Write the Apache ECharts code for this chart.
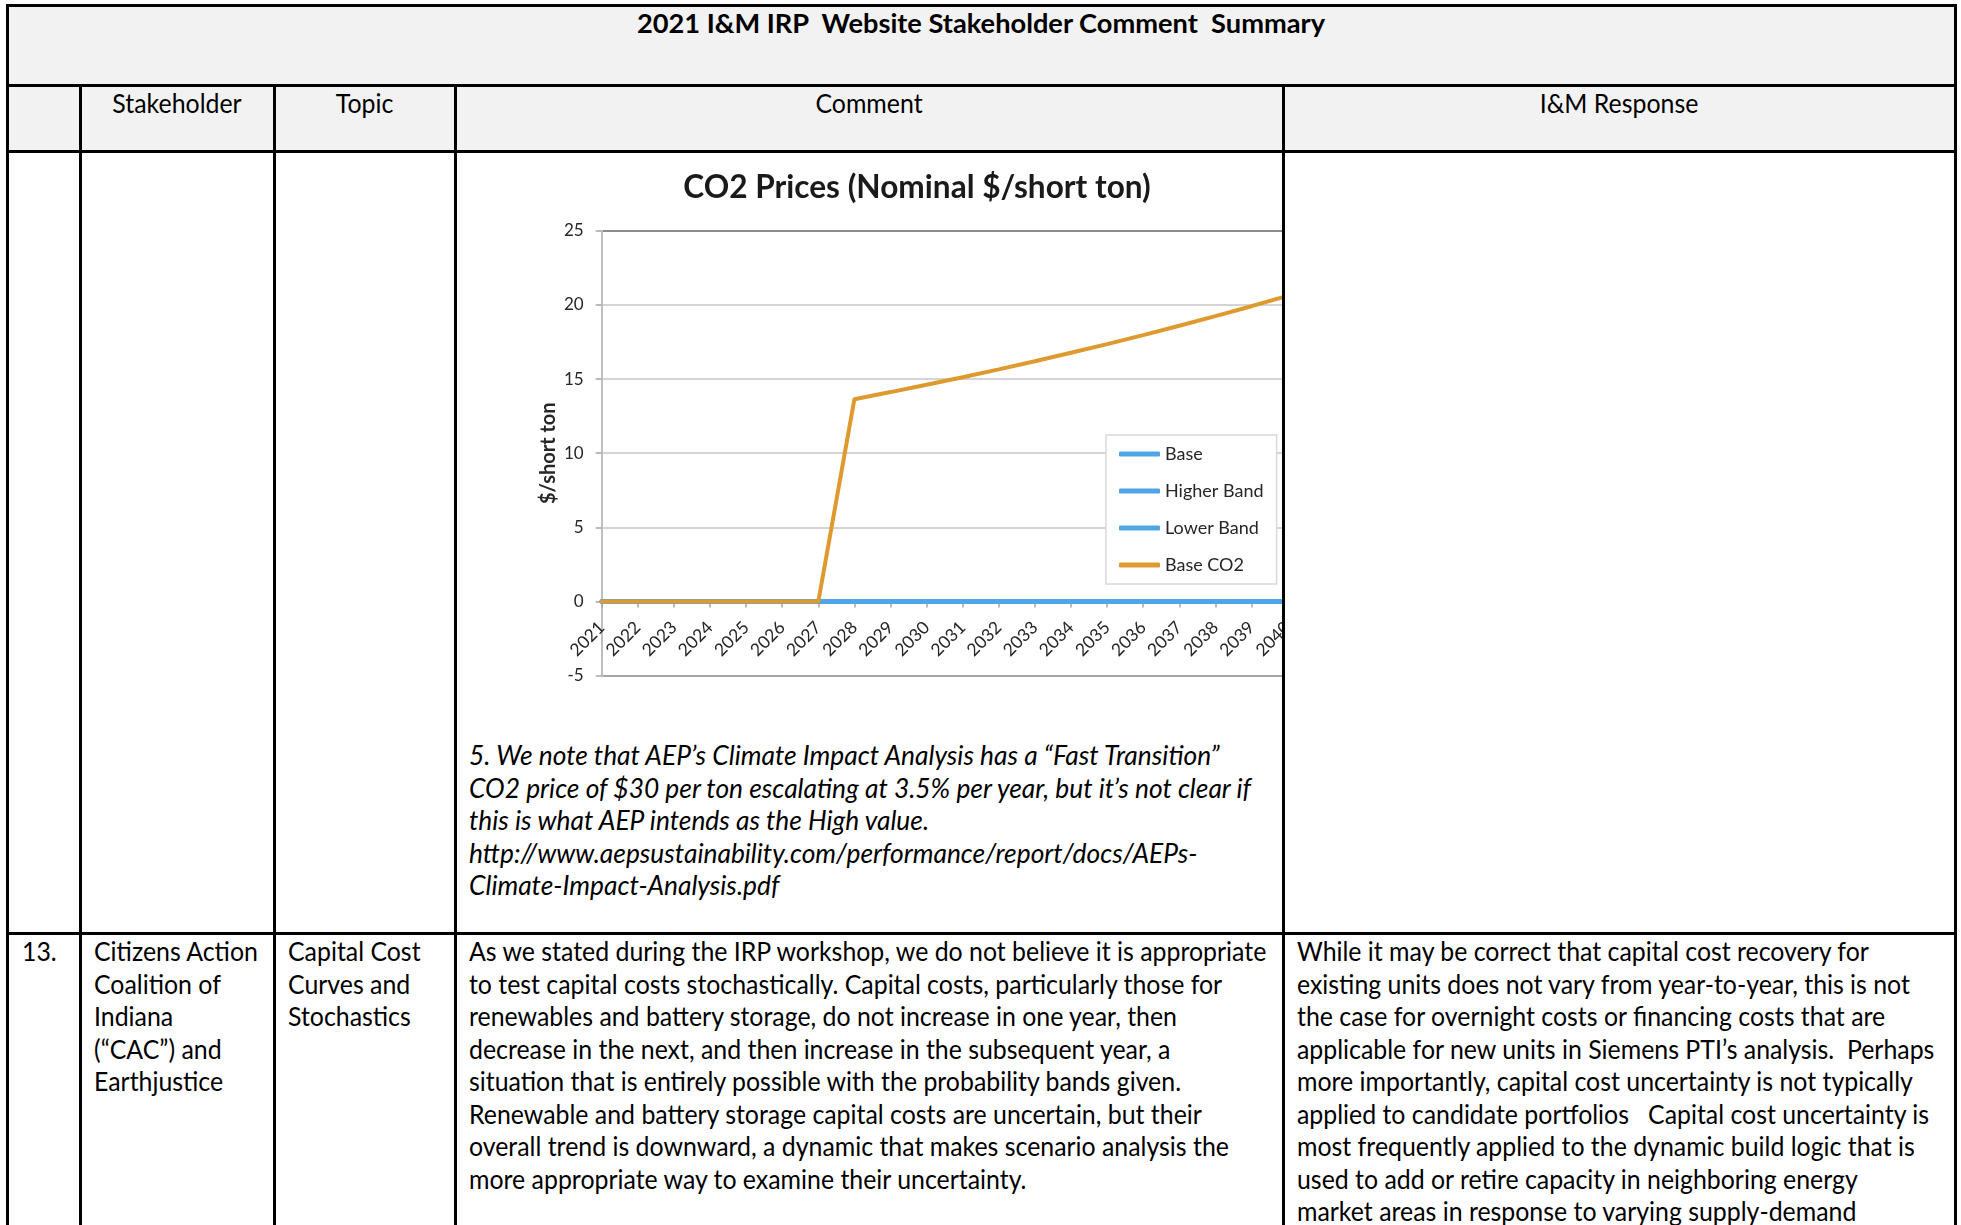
<!DOCTYPE html>
<html><head><meta charset="utf-8">
<script src="https://cdn.jsdelivr.net/npm/echarts@6/dist/echarts.min.js"></script>
<style>
html,body{margin:0;padding:0;background:#fff;}
body{width:1961px;height:1225px;overflow:hidden;position:relative;font-family:'Lato',sans-serif;color:#000;}
.bg{position:absolute;background:#f2f2f2;}
.h{position:absolute;background:#000;height:3px;z-index:5;}
.v{position:absolute;background:#000;width:3px;z-index:5;}
.t{position:absolute;font-size:26.7px;line-height:32.5px;white-space:pre;z-index:6;transform:scaleX(0.932);transform-origin:0 0;}
.c{text-align:center;transform-origin:50% 0;}
.b{font-weight:bold;transform:scaleX(1.02);}
.i{font-style:italic;transform:scaleX(0.987);}
#wrap{position:absolute;left:457px;top:153px;width:825px;height:585px;overflow:hidden;background:#fff;z-index:2;}
#chart{position:absolute;left:0;top:0;width:870px;height:585px;}
</style>
</head><body>
<div class="bg" style="left:7px;top:5px;width:1948px;height:147px;"></div>

<div class="h" style="left:6px;top:4px;width:1951px;"></div>
<div class="h" style="left:6px;top:84px;width:1951px;"></div>
<div class="h" style="left:6px;top:150px;width:1951px;"></div>
<div class="h" style="left:6px;top:932px;width:1951px;"></div>
<div class="v" style="left:6px;top:4px;height:1221px;"></div>
<div class="v" style="left:1954px;top:4px;height:1221px;"></div>
<div class="v" style="left:79px;top:85px;height:1140px;"></div>
<div class="v" style="left:273px;top:85px;height:1140px;"></div>
<div class="v" style="left:454px;top:85px;height:1140px;"></div>
<div class="v" style="left:1282px;top:85px;height:1140px;"></div>

<div class="t c b" style="left:7px;width:1948px;top:7px;">2021 I&amp;M IRP  Website Stakeholder Comment  Summary</div>
<div class="t c" style="left:80px;width:194px;top:87px;">Stakeholder</div>
<div class="t c" style="left:274px;width:181px;top:87px;">Topic</div>
<div class="t c" style="left:455px;width:828px;top:87px;">Comment</div>
<div class="t c" style="left:1283px;width:672px;top:87px;">I&amp;M Response</div>

<div id="wrap"><div id="chart"></div></div>

<div class="t i" style="left:469px;top:739px;">5. We note that AEP’s Climate Impact Analysis has a “Fast Transition”
CO2 price of $30 per ton escalating at 3.5% per year, but it’s not clear if
this is what AEP intends as the High value.
http://www.aepsustainability.com/performance/report/docs/AEPs-
Climate-Impact-Analysis.pdf</div>

<div class="t" style="left:22px;top:935px;">13.</div>
<div class="t" style="left:94px;top:935px;">Citizens Action
Coalition of
Indiana
(“CAC”) and
Earthjustice</div>
<div class="t" style="left:288px;top:935px;">Capital Cost
Curves and
Stochastics</div>
<div class="t" style="left:469px;top:935px;">As we stated during the IRP workshop, we do not believe it is appropriate
to test capital costs stochastically. Capital costs, particularly those for
renewables and battery storage, do not increase in one year, then
decrease in the next, and then increase in the subsequent year, a
situation that is entirely possible with the probability bands given.
Renewable and battery storage capital costs are uncertain, but their
overall trend is downward, a dynamic that makes scenario analysis the
more appropriate way to examine their uncertainty.</div>
<div class="t" style="left:1297px;top:935px;">While it may be correct that capital cost recovery for
existing units does not vary from year-to-year, this is not
the case for overnight costs or financing costs that are
applicable for new units in Siemens PTI’s analysis.  Perhaps
more importantly, capital cost uncertainty is not typically
applied to candidate portfolios   Capital cost uncertainty is
most frequently applied to the dynamic build logic that is
used to add or retire capacity in neighboring energy
market areas in response to varying supply-demand</div>

<script>
const years = ['2021','2022','2023','2024','2025','2026','2027','2028','2029','2030','2031','2032','2033','2034','2035','2036','2037','2038','2039','2040'];
const baseValues   = [0,0,0,0,0,0,0,0,0,0,0,0,0,0,0,0,0,0,0,0];
const higherBand   = [0,0,0,0,0,0,0,0,0,0,0,0,0,0,0,0,0,0,0,0];
const lowerBand    = [0,0,0,0,0,0,0,0,0,0,0,0,0,0,0,0,0,0,0,0];
const baseCO2      = [0,0,0,0,0,0,0,13.64,14.12,14.61,15.12,15.65,16.2,16.77,17.35,17.96,18.59,19.24,19.91,20.61];
const seriesNames  = ['Base','Higher Band','Lower Band','Base CO2'];
const yTicks       = {min:-5, max:25, step:5};
const chartTitle   = 'CO2 Prices (Nominal $/short ton)';
const yAxisTitle   = '$/short ton';

const BLUE = '#4FA5E6', ORANGE = '#DE9A2E';
const GRID = {left:144.7, top:77.7, right:39.4, bottom:62.3};
const gridH = 585 - GRID.top - GRID.bottom;
// x axis crosses the value axis at 0 (Excel style)
const zeroOffset = gridH * (0 - yTicks.min) / (yTicks.max - yTicks.min);

const chart = echarts.init(document.getElementById('chart'), null, {renderer:'canvas'});
const lineSeries = (name, data, color, w) => ({
  name, type:'line', data, symbol:'none', smooth:false,
  lineStyle:{color, width:w, cap:'round'}, itemStyle:{color}
});
chart.setOption({
  animation:false,
  backgroundColor:'#fff',
  textStyle:{fontFamily:'Lato'},
  title:{text:chartTitle, left:455, top:14, textAlign:'center',
    textStyle:{fontFamily:'Lato', fontWeight:'bold', fontSize:31.6, color:'#1a1a1a', lineHeight:32}},
  legend:{
    orient:'vertical', left:649, top:282, selectedMode:false,
    data:seriesNames, icon:'roundRect', itemWidth:41, itemHeight:5, itemGap:19,
    padding:[10,13,10,13], borderColor:'#D9D9D9', borderWidth:1.5, backgroundColor:'#fff',
    textStyle:{fontFamily:'Lato', fontSize:18, color:'#262626', lineHeight:18}
  },
  grid:GRID,
  xAxis:{
    type:'category', data:years, boundaryGap:false, position:'bottom', offset:-zeroOffset,
    axisLine:{onZero:false, lineStyle:{color:'#BFBFBF', width:2}},
    axisTick:{show:true, length:6, lineStyle:{color:'#A6A6A6', width:1.5}},
    axisLabel:{interval:0, rotate:45, margin:23, fontSize:17.5, color:'#262626', fontFamily:'Lato'},
    splitLine:{show:false}
  },
  yAxis:{
    type:'value', min:yTicks.min, max:yTicks.max, interval:yTicks.step,
    name:yAxisTitle, nameLocation:'middle', nameGap:43, nameRotate:90, nameMoveOverlap:false,
    nameTextStyle:{fontFamily:'Lato', fontWeight:'bold', fontSize:20, color:'#262626'},
    axisLine:{show:true, onZero:false, lineStyle:{color:'#BFBFBF', width:2}},
    axisTick:{show:true, length:6, lineStyle:{color:'#A6A6A6', width:1.5}},
    axisLabel:{margin:18, fontSize:17, color:'#262626', fontFamily:'Lato'},
    splitLine:{show:true, lineStyle:{width:2, color:['#A6A6A6','#D4D4D4','#D4D4D4','#D4D4D4','#D4D4D4','#D4D4D4','#8C8C8C']}}
  },
  series:[
    lineSeries(seriesNames[0], baseValues, BLUE, 4.5),
    lineSeries(seriesNames[1], higherBand, BLUE, 4.5),
    lineSeries(seriesNames[2], lowerBand, BLUE, 4.5),
    lineSeries(seriesNames[3], baseCO2, ORANGE, 4)
  ]
});
</script>
</body></html>
